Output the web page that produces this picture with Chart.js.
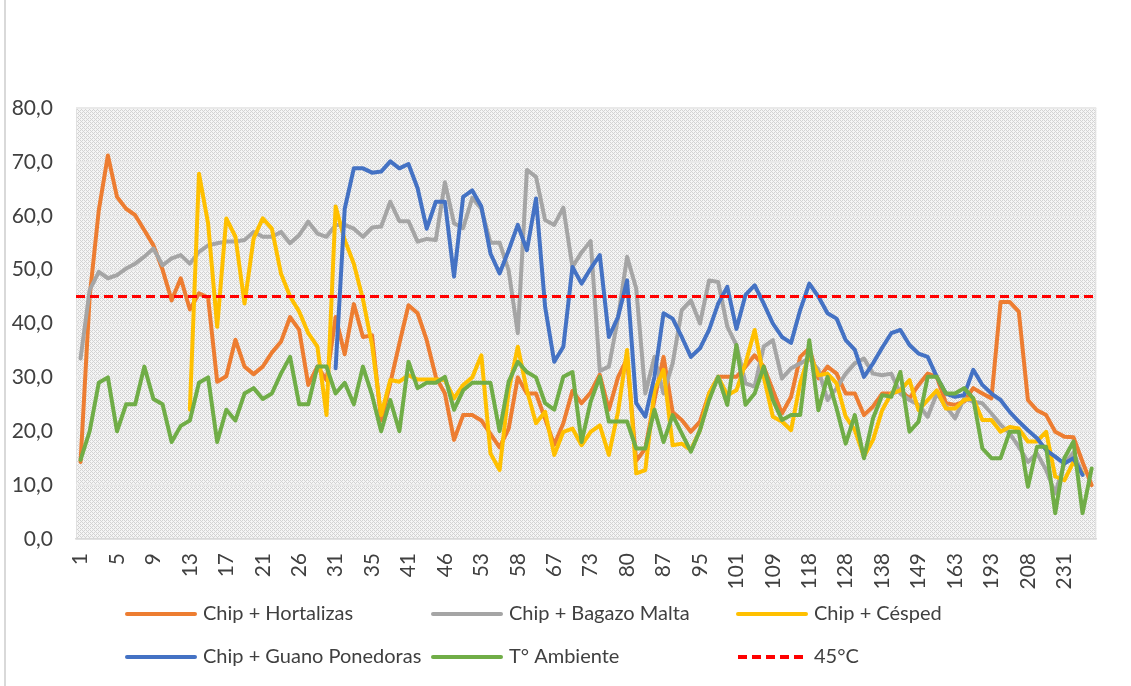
<!DOCTYPE html>
<html>
<head>
<meta charset="utf-8">
<script src="https://cdn.jsdelivr.net/npm/chart.js@4.4.1/dist/chart.umd.min.js"></script>
<style>
  html, body { margin: 0; padding: 0; background: #ffffff; }
  #wrap { position: relative; width: 1131px; height: 686px; }
  #edge { position: absolute; left: 4px; top: 0; width: 2px; height: 686px; background: #d9d9d9; }
  canvas { display: block; }
</style>
</head>
<body>
<div id="wrap">
  <canvas id="c" width="1131" height="686"></canvas>
  <div id="edge"></div>
</div>
<script>
// ---- Data ----
const categories = [
  '1','2','3','4','5','6','7','8','9','10','11','12','13','14','15','16','17','18','19','20',
  '21','22','23','25','26','27','29','30','31','32','33','34','35','37','39','40','41','42','43','45',
  '46','48','50','51','53','54','55','57','58','60','63','65','67','69','70','72','73','74','77','79',
  '80','81','84','86','87','88','91','93','95','96','98','100','101','102','105','107','109','112','114','116',
  '118','121','123','126','128','130','133','135','138','140','143','146','149','151','156','160','163','170','177','186',
  '193','198','201','205','208','214','220','225','231','236','243','250'
];

const hortalizas = [
  14.3, 45.0, 61.0, 71.2, 63.5, 61.3, 60.1, 57.3, 54.5, 50.0,
  44.3, 48.4, 42.6, 45.6, 44.8, 29.2, 30.2, 37.0, 32.0, 30.6,
  32.0, 34.6, 36.6, 41.2, 38.8, 28.6, 32.0, 29.5, 41.2, 34.3,
  43.6, 37.5, 37.8, 22.0, 28.9, 36.3, 43.4, 41.9, 36.9, 30.1,
  27.0, 18.4, 23.0, 23.0, 22.0, 19.5, 17.0, 20.5, 30.0, 27.0,
  27.0, 22.3, 17.5, 21.5, 27.5, 25.2, 27.2, 30.5, 24.0, 30.0,
  33.5, 14.5, 16.8, 25.8, 33.8, 23.5, 22.1, 19.9, 21.8, 27.0,
  30.1, 30.1, 30.1, 32.0, 34.1, 32.0, 27.6, 23.3, 26.4, 33.8,
  35.4, 29.8, 32.0, 30.7, 27.0, 27.0, 23.0, 24.6, 27.0, 27.0,
  27.6, 26.1, 28.6, 30.7, 30.1, 25.2, 24.9, 25.5, 28.0, 27.0,
  26.1, 44.0, 44.0, 42.2, 25.8, 23.9, 23.0, 19.9, 19.0, 18.9,
  14.3, 10.0
];

const bagazoMalta = [
  33.5, 46.2, 49.6, 48.4, 49.0, 50.2, 51.1, 52.4, 53.9, 50.8,
  52.1, 52.7, 51.1, 53.3, 54.5, 54.9, 55.2, 55.2, 55.5, 57.0,
  56.1, 56.1, 57.0, 54.9, 56.4, 58.9, 56.7, 56.1, 58.3, 58.3,
  57.6, 56.1, 57.8, 58.0, 62.6, 59.0, 59.0, 55.2, 55.7, 55.5,
  66.2, 58.6, 57.7, 63.3, 61.3, 55.0, 55.0, 49.8, 38.2, 68.5,
  67.2, 59.2, 58.3, 61.5, 50.5, 53.2, 55.3, 31.2, 32.0, 41.0,
  52.4, 46.5, 27.0, 33.8, 27.0, 32.6, 42.5, 44.3, 40.0, 48.0,
  47.7, 39.4, 36.0, 28.9, 28.3, 35.7, 36.9, 29.8, 31.7, 32.6,
  33.5, 31.4, 25.8, 28.0, 30.7, 32.6, 33.5, 30.7, 30.4, 30.7,
  27.0, 25.8, 24.9, 22.7, 27.0, 24.6, 22.4, 26.1, 25.5, 25.2,
  23.3, 21.2, 19.6, 17.1, 14.3, 15.9, 12.8, 8.5, 14.0, 16.0,
  12.0, null
];

const cesped = [
  null, null, null, null, null, null, null, null, null, null,
  null, null, 24.0, 67.8, 58.6, 39.4, 59.5, 56.1, 43.7, 55.8,
  59.5, 57.6, 49.3, 45.0, 42.2, 38.2, 35.7, 23.0, 61.7, 55.5,
  51.1, 44.5, 36.0, 23.0, 29.5, 29.2, 30.4, 29.6, 29.6, 29.6,
  29.5, 26.1, 28.6, 30.0, 34.1, 15.9, 12.8, 27.6, 35.7, 27.6,
  21.5, 23.6, 15.6, 19.9, 20.5, 17.4, 19.9, 21.1, 15.6, 23.6,
  35.1, 12.2, 12.8, 27.6, 31.4, 17.4, 17.7, 16.5, 20.2, 27.0,
  30.1, 26.7, 27.6, 32.6, 38.8, 30.1, 22.7, 21.8, 20.2, 28.9,
  34.4, 30.4, 30.7, 28.9, 22.7, 20.2, 15.3, 18.4, 23.9, 27.0,
  27.6, 29.5, 23.9, 25.8, 27.6, 24.2, 24.2, 25.8, 26.1, 22.1,
  22.1, 19.9, 20.8, 20.5, 18.1, 18.1, 19.9, 11.6, 10.9, 14.3,
  12.2, null
];

const guanoPonedoras = [
  null, null, null, null, null, null, null, null, null, null,
  null, null, null, null, null, null, null, null, null, null,
  null, null, null, null, null, null, null, null, 31.7, 61.3,
  68.8, 68.8, 68.0, 68.2, 70.1, 68.8, 69.6, 65.1, 57.6, 62.6,
  62.6, 48.7, 63.5, 64.7, 61.7, 53.0, 49.3, 53.6, 58.3, 53.6,
  63.2, 43.1, 32.9, 35.7, 50.5, 47.4, 50.2, 52.7, 37.5, 41.2,
  48.0, 25.2, 22.7, 30.1, 41.9, 40.9, 37.5, 33.8, 35.4, 38.8,
  43.7, 46.8, 39.0, 45.3, 47.1, 43.7, 40.0, 37.5, 36.4, 42.5,
  47.4, 45.0, 41.9, 40.9, 36.9, 35.1, 30.1, 32.6, 35.5, 38.2,
  38.8, 36.0, 34.4, 33.8, 30.1, 27.0, 26.4, 26.7, 31.4, 28.6,
  27.0, 25.8, 23.6, 21.8, 20.2, 18.7, 16.5, 15.3, 14.0, 15.0,
  11.9, null
];

const ambiente = [
  14.7, 20.0, 29.0, 30.0, 20.0, 25.0, 25.0, 32.0, 26.0, 25.0,
  18.0, 21.0, 22.0, 29.0, 30.0, 18.0, 24.0, 22.0, 27.0, 28.0,
  26.0, 27.0, 30.7, 33.8, 25.0, 25.0, 32.0, 32.0, 27.0, 29.0,
  25.0, 32.0, 26.7, 20.0, 25.8, 20.0, 32.9, 28.0, 29.0, 29.0,
  30.1, 24.0, 27.6, 29.0, 29.0, 29.0, 20.0, 29.2, 32.9, 31.0,
  30.0, 25.2, 24.0, 30.1, 31.0, 18.0, 25.5, 30.1, 21.8, 21.8,
  21.8, 16.8, 16.8, 24.0, 18.0, 23.0, 19.6, 16.2, 20.2, 25.8,
  30.1, 24.9, 36.0, 24.9, 27.0, 32.0, 25.8, 22.1, 23.0, 23.0,
  36.9, 23.9, 30.1, 24.2, 17.7, 23.0, 15.0, 22.4, 26.7, 26.4,
  31.0, 19.9, 21.8, 30.1, 30.1, 27.0, 27.0, 28.0, 26.1, 16.8,
  15.0, 15.0, 19.9, 19.9, 9.7, 17.1, 17.1, 4.8, 15.0, 18.1,
  4.8, 13.1
];

const umbral = 45;          // 45°C reference line, spans the whole plot width
const yTicks = { min: 0, max: 80, step: 10 };

// ---- Plot-area pattern (Excel-like dotted fill) ----
const patternMask = [
  [1, 0, 1, 0],
  [0, 1, 0, 0],
  [1, 0, 1, 0],
  [0, 0, 0, 1]
];
function makePattern(ctx) {
  const p = document.createElement('canvas');
  p.width = 4; p.height = 4;
  const g = p.getContext('2d');
  g.fillStyle = '#f5f5f5';
  g.fillRect(0, 0, 4, 4);
  g.fillStyle = '#d3d3d3';
  patternMask.forEach((row, y) => row.forEach((v, x) => { if (v) g.fillRect(x, y, 1, 1); }));
  return ctx.createPattern(p, 'repeat');
}

const bgPlugin = {
  id: 'plotBg',
  beforeDraw(chart) {
    const { ctx, chartArea: a } = chart;
    ctx.save();
    ctx.fillStyle = makePattern(ctx);
    ctx.fillRect(a.left, a.top, a.right - a.left, a.bottom - a.top);
    ctx.strokeStyle = '#e0e0e0';
    ctx.lineWidth = 1;
    ctx.strokeRect(a.left + 0.5, a.top + 0.5, a.right - a.left - 1, a.bottom - a.top - 1);
    ctx.restore();
  }
};

const legendPlugin = {
  id: 'gridLegend',
  afterDraw(chart) {
    const { ctx } = chart;
    const cols = [127, 433, 738];
    const rows = [614, 657];
    ctx.save();
    chart.data.datasets.forEach((ds, i) => {
      const x = cols[i % 3];
      const y = rows[Math.floor(i / 3)];
      ctx.beginPath();
      ctx.strokeStyle = ds.borderColor;
      ctx.lineWidth = 4;
      ctx.lineCap = ds.borderDash ? 'butt' : 'round';
      ctx.setLineDash(ds.borderDash || []);
      ctx.moveTo(x, y);
      ctx.lineTo(x + 68, y);
      ctx.stroke();
      ctx.setLineDash([]);
      ctx.fillStyle = '#404040';
      ctx.font = '20px Lato, "Open Sans", sans-serif';
      ctx.textBaseline = 'middle';
      ctx.textAlign = 'left';
      ctx.fillText(ds.label, x + 76, y);
    });
    ctx.restore();
  }
};

function series(label, data, color, order) {
  return {
    label, data, borderColor: color, backgroundColor: color,
    borderWidth: 4, pointRadius: 0, pointHoverRadius: 0,
    tension: 0, fill: false, spanGaps: false, order,
    borderJoinStyle: 'round', borderCapStyle: 'round'
  };
}

const ctx = document.getElementById('c').getContext('2d');
new Chart(ctx, {
  type: 'line',
  data: {
    labels: categories,
    datasets: [
      series('Chip + Hortalizas', hortalizas, '#ED7D31', 6),
      series('Chip + Bagazo Malta', bagazoMalta, '#A5A5A5', 5),
      series('Chip + Césped', cesped, '#FFC000', 4),
      series('Chip + Guano Ponedoras', guanoPonedoras, '#4472C4', 3),
      series('T° Ambiente', ambiente, '#70AD47', 2),
      Object.assign(series('45°C',
        [{ x: 0, y: umbral }, { x: 1, y: umbral }],
        '#FF0000', 1), { borderDash: [9, 5], borderWidth: 3, borderCapStyle: 'butt', xAxisID: 'xRef' })
    ]
  },
  options: {
    responsive: false,
    animation: false,
    events: [],
    layout: { padding: { top: 108, left: 0, right: 31, bottom: 87 } },
    plugins: { legend: { display: false }, tooltip: { enabled: false } },
    scales: {
      x: {
        type: 'category',
        offset: true,
        grid: { display: false, drawTicks: false },
        border: { display: true, color: '#d9d9d9', width: 1.5 },
        ticks: {
          autoSkip: false,
          minRotation: 90, maxRotation: 90,
          padding: 14,
          color: '#404040',
          font: { family: 'Lato, "Open Sans", sans-serif', size: 21 },
          callback: (v, i) => (i % 4 === 0 ? categories[i] : '')
        },
        afterFit: (s) => { s.height = 60; }
      },
      xRef: { type: 'linear', min: 0, max: 1, display: false },
      y: {
        min: yTicks.min, max: yTicks.max,
        grid: { color: '#e9e9e9', lineWidth: 2, drawTicks: false },
        border: { display: false },
        ticks: {
          stepSize: yTicks.step,
          padding: 23,
          color: '#404040',
          font: { family: 'Lato, "Open Sans", sans-serif', size: 21 },
          callback: (v) => Number(v).toFixed(1).replace('.', ',')
        },
        afterFit: (s) => { s.width = 76; }
      }
    }
  },
  plugins: [bgPlugin, legendPlugin]
});
</script>
</body>
</html>
